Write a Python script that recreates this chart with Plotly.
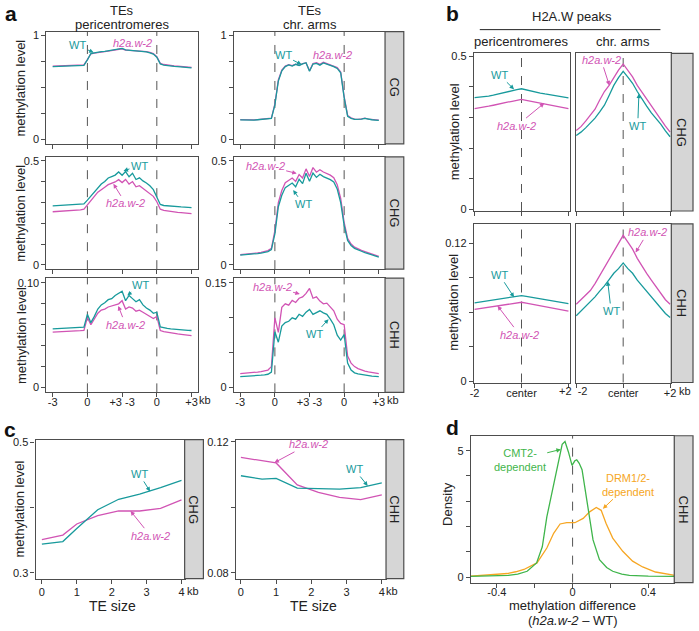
import plotly.graph_objects as go

W, H = 699, 631
FONT = 'Liberation Sans, Arial, sans-serif'
WT_COL = '#189a9c'
MUT_COL = '#d154b4'
CMT_COL = '#3fb54b'
DRM_COL = '#f6a623'
FRAME = '#4d4d4d'
STRIP_FILL = '#d6d6d6'
TXT = '#222222'

# ---------------- data ----------------
# panel a: metaplots over TEs, bins on -3 kb .. TE .. +3 kb (4 segments)
A_X = [round(i * 0.1, 1) for i in range(41)]
A_CG_PERI_WT = [0.700, 0.701, 0.699, 0.702, 0.700, 0.703, 0.704, 0.705, 0.707, 0.712, 0.765, 0.826, 0.833, 0.840,
                0.845, 0.846, 0.851, 0.857, 0.862, 0.869, 0.876, 0.861, 0.858, 0.853, 0.849, 0.851, 0.846, 0.842,
                0.833, 0.821, 0.790, 0.726, 0.715, 0.709, 0.706, 0.702, 0.699, 0.696, 0.693, 0.690, 0.688]
A_CG_PERI_MUT = [0.705, 0.706, 0.704, 0.707, 0.705, 0.708, 0.708, 0.709, 0.711, 0.716, 0.768, 0.824, 0.831, 0.838,
                 0.843, 0.845, 0.849, 0.855, 0.860, 0.866, 0.872, 0.858, 0.856, 0.852, 0.850, 0.853, 0.848, 0.845,
                 0.837, 0.826, 0.795, 0.731, 0.720, 0.714, 0.711, 0.707, 0.704, 0.701, 0.698, 0.695, 0.693]
A_CG_ARMS_WT = [0.185, 0.183, 0.187, 0.184, 0.182, 0.186, 0.189, 0.190, 0.193, 0.199, 0.330, 0.560, 0.660, 0.700,
                0.716, 0.705, 0.722, 0.709, 0.726, 0.737, 0.655, 0.724, 0.731, 0.714, 0.736, 0.721, 0.712, 0.700,
                0.682, 0.640, 0.400, 0.220, 0.200, 0.190, 0.188, 0.193, 0.199, 0.191, 0.186, 0.183, 0.180]
A_CG_ARMS_MUT = [0.187, 0.185, 0.189, 0.186, 0.184, 0.188, 0.190, 0.192, 0.195, 0.202, 0.340, 0.570, 0.665, 0.705,
                 0.718, 0.710, 0.724, 0.713, 0.728, 0.735, 0.660, 0.730, 0.738, 0.722, 0.741, 0.728, 0.718, 0.708,
                 0.690, 0.648, 0.410, 0.228, 0.205, 0.193, 0.190, 0.195, 0.201, 0.193, 0.188, 0.185, 0.182]
A_CHG_PERI_WT = [0.284, 0.285, 0.284, 0.286, 0.287, 0.288, 0.289, 0.290, 0.292, 0.294, 0.312, 0.332, 0.352, 0.374,
                 0.389, 0.401, 0.418, 0.425, 0.432, 0.447, 0.431, 0.449, 0.424, 0.441, 0.411, 0.419, 0.404, 0.394,
                 0.381, 0.362, 0.326, 0.291, 0.286, 0.284, 0.282, 0.281, 0.280, 0.279, 0.278, 0.277, 0.276]
A_CHG_PERI_MUT = [0.256, 0.257, 0.257, 0.258, 0.259, 0.260, 0.261, 0.263, 0.265, 0.268, 0.290, 0.310, 0.330, 0.350,
                  0.364, 0.374, 0.386, 0.391, 0.399, 0.410, 0.396, 0.411, 0.389, 0.401, 0.376, 0.381, 0.369, 0.356,
                  0.345, 0.330, 0.304, 0.268, 0.262, 0.259, 0.257, 0.255, 0.253, 0.252, 0.250, 0.248, 0.247]
A_CHG_ARMS_WT = [0.047, 0.048, 0.049, 0.051, 0.053, 0.055, 0.057, 0.060, 0.064, 0.074, 0.150, 0.280, 0.335, 0.372,
                 0.382, 0.394, 0.376, 0.412, 0.391, 0.441, 0.402, 0.442, 0.421, 0.436, 0.425, 0.419, 0.410, 0.399,
                 0.365, 0.300, 0.190, 0.118, 0.094, 0.080, 0.072, 0.066, 0.060, 0.055, 0.049, 0.043, 0.038]
A_CHG_ARMS_MUT = [0.050, 0.051, 0.052, 0.054, 0.056, 0.058, 0.061, 0.064, 0.069, 0.080, 0.165, 0.300, 0.358, 0.395,
                  0.405, 0.418, 0.402, 0.435, 0.418, 0.462, 0.425, 0.468, 0.446, 0.458, 0.447, 0.441, 0.432, 0.420,
                  0.386, 0.320, 0.205, 0.128, 0.101, 0.086, 0.077, 0.070, 0.064, 0.058, 0.052, 0.046, 0.041]
A_CHH_PERI_WT = [0.0560, 0.0562, 0.0561, 0.0563, 0.0565, 0.0566, 0.0568, 0.0570, 0.0572, 0.0578, 0.0700, 0.0620,
                 0.0680, 0.0750, 0.0790, 0.0810, 0.0840, 0.0850, 0.0880, 0.0900, 0.0920, 0.0830, 0.0880, 0.0850,
                 0.0820, 0.0840, 0.0790, 0.0760, 0.0740, 0.0710, 0.0720, 0.0580, 0.0570, 0.0565, 0.0560, 0.0556,
                 0.0553, 0.0551, 0.0549, 0.0547, 0.0545]
A_CHH_PERI_MUT = [0.0530, 0.0531, 0.0532, 0.0533, 0.0535, 0.0537, 0.0539, 0.0541, 0.0543, 0.0547, 0.0670, 0.0600,
                  0.0660, 0.0710, 0.0740, 0.0750, 0.0770, 0.0780, 0.0790, 0.0800, 0.0830, 0.0750, 0.0770, 0.0760,
                  0.0730, 0.0740, 0.0720, 0.0700, 0.0680, 0.0660, 0.0680, 0.0545, 0.0535, 0.0528, 0.0522, 0.0517,
                  0.0512, 0.0508, 0.0504, 0.0500, 0.0497]
A_CHH_ARMS_WT = [0.0156, 0.0158, 0.0160, 0.0163, 0.0167, 0.0171, 0.0176, 0.0182, 0.0190, 0.0220, 0.0800, 0.0650,
                 0.0880, 0.0930, 0.0950, 0.1000, 0.0980, 0.1050, 0.1020, 0.1080, 0.1120, 0.1050, 0.1080, 0.1100,
                 0.1070, 0.1050, 0.0980, 0.0900, 0.0750, 0.0680, 0.0760, 0.0350, 0.0250, 0.0210, 0.0195, 0.0185,
                 0.0177, 0.0170, 0.0164, 0.0159, 0.0155]
A_CHH_ARMS_MUT = [0.0200, 0.0203, 0.0207, 0.0211, 0.0216, 0.0222, 0.0229, 0.0238, 0.0250, 0.0300, 0.1000, 0.0790,
                  0.1150, 0.1200, 0.1180, 0.1250, 0.1220, 0.1280, 0.1300, 0.1350, 0.1420, 0.1280, 0.1300, 0.1240,
                  0.1200, 0.1210, 0.1150, 0.1100, 0.0980, 0.0920, 0.0900, 0.0450, 0.0350, 0.0300, 0.0270, 0.0250,
                  0.0235, 0.0225, 0.0215, 0.0207, 0.0200]
A_XTICKS = ['-3', '0', '+3 -3', '0', '+3']

# panel b: H2A.W peak metaplots, -2 .. +2 kb
B_X = [-2.0, -1.8, -1.6, -1.4, -1.2, -1.0, -0.8, -0.6, -0.4, -0.2, 0.0,
       0.2, 0.4, 0.6, 0.8, 1.0, 1.2, 1.4, 1.6, 1.8, 2.0]
B_CHG_PERI_WT = [0.365, 0.366, 0.368, 0.370, 0.373, 0.377, 0.380, 0.384, 0.387, 0.391, 0.394,
                 0.390, 0.387, 0.383, 0.380, 0.377, 0.374, 0.371, 0.369, 0.366, 0.364]
B_CHG_PERI_MUT = [0.329, 0.331, 0.334, 0.337, 0.340, 0.344, 0.347, 0.350, 0.353, 0.356, 0.359,
                  0.356, 0.353, 0.349, 0.346, 0.342, 0.339, 0.336, 0.333, 0.331, 0.329]
B_CHG_ARMS_WT = [0.241, 0.252, 0.266, 0.281, 0.298, 0.318, 0.340, 0.372, 0.405, 0.430, 0.451,
                 0.432, 0.412, 0.385, 0.360, 0.337, 0.315, 0.297, 0.278, 0.256, 0.237]
B_CHG_ARMS_MUT = [0.257, 0.270, 0.288, 0.307, 0.327, 0.357, 0.385, 0.405, 0.432, 0.455, 0.475,
                  0.455, 0.433, 0.405, 0.382, 0.360, 0.336, 0.314, 0.294, 0.272, 0.252]
B_CHH_PERI_WT = [0.0683, 0.0689, 0.0695, 0.0701, 0.0707, 0.0713, 0.0720, 0.0727, 0.0733, 0.0740, 0.0746,
                 0.0740, 0.0733, 0.0726, 0.0719, 0.0712, 0.0705, 0.0698, 0.0691, 0.0684, 0.0677]
B_CHH_PERI_MUT = [0.0626, 0.0632, 0.0638, 0.0644, 0.0650, 0.0656, 0.0663, 0.0669, 0.0675, 0.0682, 0.0688,
                  0.0680, 0.0672, 0.0665, 0.0657, 0.0649, 0.0641, 0.0634, 0.0626, 0.0618, 0.0611]
B_CHH_ARMS_WT = [0.0570, 0.0610, 0.0650, 0.0690, 0.0735, 0.0785, 0.0830, 0.0885, 0.0940, 0.0980, 0.1030,
                 0.0980, 0.0940, 0.0880, 0.0830, 0.0780, 0.0730, 0.0680, 0.0635, 0.0590, 0.0555]
B_CHH_ARMS_MUT = [0.067, 0.071, 0.075, 0.079, 0.085, 0.092, 0.098, 0.105, 0.113, 0.120, 0.127,
                  0.121, 0.115, 0.107, 0.100, 0.094, 0.088, 0.082, 0.077, 0.071, 0.067]
B_XTICKS_LEFT = ['-2', 'center', '']
B_XTICKS_RIGHT = ['', 'center', '+2']

# panel c: methylation vs TE size (kb)
C_X = [0.0, 0.6, 1.0, 1.6, 2.2, 2.8, 3.4, 4.0]
C_CHG_WT = [0.344, 0.348, 0.368, 0.397, 0.413, 0.421, 0.431, 0.442]
C_CHG_MUT = [0.351, 0.358, 0.375, 0.388, 0.395, 0.395, 0.399, 0.412]
C_CHH_WT = [0.1096, 0.1086, 0.1088, 0.1058, 0.1057, 0.1055, 0.1060, 0.1074]
C_CHH_MUT = [0.1152, 0.1142, 0.1135, 0.1068, 0.1045, 0.1030, 0.1023, 0.1038]

# panel d: density of CHH methylation difference
D_CMT2_X = [-0.54, -0.44, -0.34, -0.29, -0.24, -0.19, -0.16, -0.136, -0.10, -0.083, -0.068, -0.055, -0.040,
            -0.022, -0.003, 0.012, 0.022, 0.035, 0.050, 0.065, 0.082, 0.108, 0.142, 0.18, 0.212, 0.26,
            0.30, 0.40, 0.54]
D_CMT2_Y = [0.03, 0.04, 0.066, 0.12, 0.23, 0.56, 1.2, 2.38, 3.68, 4.25, 4.85, 5.25, 5.36, 4.95, 4.42, 4.6,
            4.64, 4.5, 4.25, 3.5, 2.64, 1.47, 0.69, 0.38, 0.23, 0.12, 0.07, 0.04, 0.03]
D_DRM_X = [-0.54, -0.44, -0.344, -0.30, -0.257, -0.188, -0.136, -0.10, -0.066, -0.031, 0.012, 0.056, 0.09,
           0.125, 0.151, 0.177, 0.212, 0.265, 0.317, 0.37, 0.438, 0.54]
D_DRM_Y = [0.04, 0.08, 0.14, 0.21, 0.30, 0.56, 1.15, 1.73, 2.10, 2.15, 2.15, 2.32, 2.58, 2.75, 2.64, 2.12,
           1.54, 1.02, 0.63, 0.40, 0.20, 0.07]

# ---------------- geometry (pixels) ----------------
# key: (x px), (y px), x range, y range
GEOM = {
    'a11': ((43, 197), (28, 142), (-0.18, 4.2), (-0.048, 1.038)),
    'a12': ((233, 386), (28, 142), (-0.18, 4.18), (-0.048, 1.038)),
    'a21': ((43, 197), (155, 269), (-0.18, 4.2), (-0.02, 0.52)),
    'a22': ((233, 386), (155, 269), (-0.18, 4.18), (-0.02, 0.52)),
    'a31': ((43, 197), (278, 394), (-0.18, 4.2), (-0.0047, 0.1047)),
    'a32': ((233, 386), (278, 394), (-0.18, 4.18), (-0.007, 0.157)),
    'b11': ((476, 573), (50, 210), (-2.03, 2.05), (-0.006, 0.51)),
    'b12': ((579, 676), (50, 210), (-2.03, 2.05), (-0.006, 0.51)),
    'b21': ((476, 573), (223, 384), (-2.03, 2.05), (-0.001, 0.137)),
    'b22': ((579, 676), (223, 384), (-2.03, 2.05), (-0.001, 0.137)),
    'c1': ((32, 183), (442, 583), (-0.18, 4.09), (0.291, 0.5045)),
    'c2': ((235, 387), (442, 583), (-0.14, 4.12), (0.0782, 0.1206)),
    'd': ((473, 679), (438, 587), (-0.537, 0.537), (-0.22, 5.59)),
}
KEYS = list(GEOM)

XTICKS = {
    'a11': ([0, 1, 2, 3, 4], None), 'a12': ([0, 1, 2, 3, 4], None),
    'a21': ([0, 1, 2, 3, 4], None), 'a22': ([0, 1, 2, 3, 4], None),
    'a31': ([0, 1, 2, 3, 4], A_XTICKS), 'a32': ([0, 1, 2, 3, 4], A_XTICKS),
    'b11': ([-2, 0, 2], None), 'b12': ([-2, 0, 2], None),
    'b21': ([-2, 0, 2], B_XTICKS_LEFT), 'b22': ([-2, 0, 2], B_XTICKS_RIGHT),
    'c1': ([0, 1, 2, 3, 4], ['0', '1', '2', '3', '4']),
    'c2': ([0, 1, 2, 3, 4], ['0', '1', '2', '3', '4']),
    'd': ([-0.4, -0.2, 0, 0.2, 0.4], ['-0.4', '', '0', '', '0.4']),
}
# pull the x tick labels a little closer to the axis where the reference does
XLAB_SHIFT = {'a31': -5, 'a32': -5, 'b21': -4, 'b22': -4, 'c1': -1, 'c2': -1, 'd': -5}
YTICKS = {
    'a11': ([0, 0.25, 0.5, 0.75, 1], ['0', '', '', '', '1']),
    'a12': ([0, 0.25, 0.5, 0.75, 1], ['0', '', '', '', '1']),
    'a21': ([0, 0.1, 0.2, 0.3, 0.4, 0.5], ['0', '', '', '', '', '0.5']),
    'a22': ([0, 0.1, 0.2, 0.3, 0.4, 0.5], ['0', '', '', '', '', '0.5']),
    'a31': ([0, 0.02, 0.04, 0.06, 0.08, 0.10], ['0', '', '', '', '', '0.10']),
    'a32': ([0, 0.05, 0.10, 0.15], ['0', '', '', '0.15']),
    'b11': ([0, 0.1, 0.2, 0.3, 0.4, 0.5], ['0', '', '', '', '', '0.5']),
    'b12': None,
    'b21': ([0, 0.03, 0.06, 0.09, 0.12], ['0', '', '', '', '0.12']),
    'b22': None,
    'c1': ([0.3, 0.4, 0.5], ['0.3', '', '0.5']),
    'c2': ([0.08, 0.10, 0.12], ['0.08', '', '0.12']),
    'd': ([0, 1, 2, 3, 4, 5], ['0', '', '', '', '', '5']),
}


def ax_id(key):
    i = KEYS.index(key) + 1
    return ('x', 'y') if i == 1 else (f'x{i}', f'y{i}')


def to_px(key, xv, yv):
    (x0, x1), (y0, y1), (xr0, xr1), (yr0, yr1) = GEOM[key]
    return (x0 + (xv - xr0) / (xr1 - xr0) * (x1 - x0),
            y1 - (yv - yr0) / (yr1 - yr0) * (y1 - y0))


fig = go.Figure()

SERIES = [
    ('a11', A_X, A_CG_PERI_MUT, MUT_COL), ('a11', A_X, A_CG_PERI_WT, WT_COL),
    ('a12', A_X, A_CG_ARMS_MUT, MUT_COL), ('a12', A_X, A_CG_ARMS_WT, WT_COL),
    ('a21', A_X, A_CHG_PERI_MUT, MUT_COL), ('a21', A_X, A_CHG_PERI_WT, WT_COL),
    ('a22', A_X, A_CHG_ARMS_MUT, MUT_COL), ('a22', A_X, A_CHG_ARMS_WT, WT_COL),
    ('a31', A_X, A_CHH_PERI_MUT, MUT_COL), ('a31', A_X, A_CHH_PERI_WT, WT_COL),
    ('a32', A_X, A_CHH_ARMS_MUT, MUT_COL), ('a32', A_X, A_CHH_ARMS_WT, WT_COL),
    ('b11', B_X, B_CHG_PERI_MUT, MUT_COL), ('b11', B_X, B_CHG_PERI_WT, WT_COL),
    ('b12', B_X, B_CHG_ARMS_MUT, MUT_COL), ('b12', B_X, B_CHG_ARMS_WT, WT_COL),
    ('b21', B_X, B_CHH_PERI_MUT, MUT_COL), ('b21', B_X, B_CHH_PERI_WT, WT_COL),
    ('b22', B_X, B_CHH_ARMS_MUT, MUT_COL), ('b22', B_X, B_CHH_ARMS_WT, WT_COL),
    ('c1', C_X, C_CHG_MUT, MUT_COL), ('c1', C_X, C_CHG_WT, WT_COL),
    ('c2', C_X, C_CHH_MUT, MUT_COL), ('c2', C_X, C_CHH_WT, WT_COL),
    ('d', D_DRM_X, D_DRM_Y, DRM_COL), ('d', D_CMT2_X, D_CMT2_Y, CMT_COL),
]
for key, xs, ys, col in SERIES:
    xa, ya = ax_id(key)
    fig.add_trace(go.Scatter(x=xs, y=ys, mode='lines', xaxis=xa, yaxis=ya,
                             line=dict(color=col, width=1.3), showlegend=False, hoverinfo='skip'))

tickfont = dict(family=FONT, size=11, color=TXT)
layout = {}
for i, key in enumerate(KEYS, start=1):
    (x0, x1), (y0, y1), xr, yr = GEOM[key]
    xa, ya = ax_id(key)
    sfx = '' if i == 1 else str(i)
    xt = XTICKS[key]
    xax = dict(domain=[x0 / W, x1 / W], range=list(xr), anchor=ya, showgrid=False, zeroline=False,
               showline=True, mirror=True, linecolor=FRAME, linewidth=1.2, ticks='outside',
               ticklen=4, tickcolor=FRAME, tickwidth=1, tickfont=tickfont, tickvals=xt[0])
    if xt[1] is None:
        xax['showticklabels'] = False
    else:
        xax['ticktext'] = xt[1]
        xax['ticklabelstandoff'] = XLAB_SHIFT.get(key, 0)
    yax = dict(domain=[1 - y1 / H, 1 - y0 / H], range=list(yr), anchor=xa, showgrid=False, zeroline=False,
               showline=True, mirror=True, linecolor=FRAME, linewidth=1.2, tickfont=tickfont)
    yt = YTICKS[key]
    if yt is None:
        yax.update(ticks='', showticklabels=False)
    else:
        yax.update(ticks='outside', ticklen=4, tickcolor=FRAME, tickwidth=1,
                   tickvals=yt[0], ticktext=yt[1])
    layout['xaxis' + sfx] = xax
    layout['yaxis' + sfx] = yax

shapes = []
# dashed guide lines
VLINES = [('a11', 1), ('a11', 3), ('a12', 1), ('a12', 3), ('a21', 1), ('a21', 3), ('a22', 1), ('a22', 3),
          ('a31', 1), ('a31', 3), ('a32', 1), ('a32', 3), ('b11', 0), ('b12', 0), ('b21', 0), ('b22', 0),
          ('d', 0)]
for key, xv in VLINES:
    xa, ya = ax_id(key)
    shapes.append(dict(type='line', xref=xa, yref=ya + ' domain', x0=xv, x1=xv, y0=0, y1=1,
                       line=dict(color='#555555', width=1, dash='dash'), layer='below'))

# grey strips on the right
STRIPS = [((386, 405), (28, 142), 'CG'), ((386, 405), (155, 269), 'CHG'), ((386, 405), (278, 394), 'CHH'),
          ((676, 698), (50, 210), 'CHG'), ((676, 698), (223, 384), 'CHH'),
          ((183, 202), (442, 583), 'CHG'), ((387, 405), (442, 583), 'CHH'),
          ((679, 698), (438, 587), 'CHH')]
ann = []


def text(x, y, s, size=13, color=TXT, angle=0, anchor='center'):
    ann.append(dict(x=x / W, y=1 - y / H, xref='paper', yref='paper', text=s, showarrow=False,
                    font=dict(family=FONT, size=size, color=color), textangle=angle,
                    xanchor=anchor, yanchor='middle'))


for (sx0, sx1), (sy0, sy1), lab in STRIPS:
    shapes.append(dict(type='rect', xref='paper', yref='paper', x0=sx0 / W, x1=sx1 / W,
                       y0=1 - sy1 / H, y1=1 - sy0 / H, fillcolor=STRIP_FILL,
                       line=dict(color=FRAME, width=1.2)))
    text((sx0 + sx1) / 2, (sy0 + sy1) / 2, lab, size=13, angle=90)

# header rule for panel b
shapes.append(dict(type='line', xref='paper', yref='paper', x0=482 / W, x1=665 / W,
                   y0=1 - 26 / H, y1=1 - 26 / H, line=dict(color=TXT, width=1)))

# panel letters
for lx, ly, l in [(7, 10, 'a'), (454, 10, 'b'), (6, 432, 'c'), (454, 430, 'd')]:
    text(lx, ly, '<b>%s</b>' % l, size=21, color='#111111')

# column headers
text(120, 6.5, 'TEs')
text(120, 20.5, 'pericentromeres')
text(310, 6.5, 'TEs')
text(310, 20.5, 'chr. arms')
text(575, 13, 'H2A.W peaks')
text(524, 38, 'pericentromeres')
text(627, 38, 'chr. arms')

# axis titles
for yy in (85, 212, 336):
    text(17, yy, 'methylation level', angle=-90)
for yy in (130, 303):
    text(456, yy, 'methylation level', angle=-90)
text(16, 512, 'methylation level', angle=-90)
text(450, 507, 'Density', angle=-90)
text(110, 611, 'TE size', size=14)
text(314, 611, 'TE size', size=14)
text(576, 610, 'methylation difference')
text(576, 625, '(<i>h2a.w-2</i> \u2013 WT)')

# "+2 -2" pair between the b columns, and "kb" units
text(576, 393, '+2\u00a0\u00a0-2', size=11)
for kx, ky in [(204, 402), (394, 402), (690, 393), (191, 596), (393, 596)]:
    text(kx, ky, 'kb', size=11)

MUT_LAB = '<i>h2a.w-2</i>'
ARROWS = [
    ('a11', 1.18, 0.835, 75, 42, 'WT', WT_COL), ('a11', 2.51, 0.849, 130, 40, MUT_LAB, MUT_COL),
    ('a12', 1.77, 0.72, 283, 52, 'WT', WT_COL), ('a12', 2.48, 0.735, 333, 52, MUT_LAB, MUT_COL),
    ('a21', 2.04, 0.452, 137, 164, 'WT', WT_COL), ('a21', 1.75, 0.39, 123, 202, MUT_LAB, MUT_COL),
    ('a22', 1.63, 0.44, 265, 164, MUT_LAB, MUT_COL), ('a22', 1.53, 0.36, 303, 203, 'WT', WT_COL),
    ('a31', 2.15, 0.088, 138, 285, 'WT', WT_COL), ('a31', 1.89, 0.078, 123, 325, MUT_LAB, MUT_COL),
    ('a32', 1.72, 0.134, 272, 287, MUT_LAB, MUT_COL), ('a32', 2.55, 0.098, 315, 335, 'WT', WT_COL),
    ('b11', -0.32, 0.392, 502, 72, 'WT', WT_COL), ('b11', 0.97, 0.347, 520, 123, MUT_LAB, MUT_COL),
    ('b12', -0.59, 0.405, 605, 57, MUT_LAB, MUT_COL), ('b12', 0.67, 0.378, 642, 123, 'WT', WT_COL),
    ('b21', -0.32, 0.0732, 502, 275, 'WT', WT_COL), ('b21', -1.02, 0.0657, 522, 335, MUT_LAB, MUT_COL),
    ('b22', 0.53, 0.112, 652, 232, MUT_LAB, MUT_COL), ('b22', -0.66, 0.087, 615, 311, 'WT', WT_COL),
    ('c1', 3.1, 0.425, 137, 477, 'WT', WT_COL), ('c1', 2.54, 0.395, 148, 539, MUT_LAB, MUT_COL),
    ('c2', 0.95, 0.1136, 308, 447, MUT_LAB, MUT_COL), ('c2', 3.6, 0.1065, 355, 472, 'WT', WT_COL),
]
for key, tx, ty, lx, ly, s, col in ARROWS:
    xa, ya = ax_id(key)
    hx, hy = to_px(key, tx, ty)
    ann.append(dict(x=tx, y=ty, xref=xa, yref=ya, ax=lx - hx, ay=ly - hy, text=s, showarrow=True,
                    arrowhead=2, arrowsize=0.9, arrowwidth=1, arrowcolor=col, standoff=0,
                    font=dict(family=FONT, size=11, color=col)))

for key, tx, ty, lx, ly, s, col in [
        ('d', -0.062, 5.05, 523, 462, 'CMT2-<br>dependent', CMT_COL),
        ('d', 0.16, 2.70, 632, 488, 'DRM1/2-<br>dependent', DRM_COL)]:
    xa, ya = ax_id(key)
    hx, hy = to_px(key, tx, ty)
    ann.append(dict(x=tx, y=ty, xref=xa, yref=ya, ax=lx - hx, ay=ly - hy, text=s, showarrow=True,
                    arrowhead=2, arrowsize=0.9, arrowwidth=1, arrowcolor=col, standoff=0,
                    font=dict(family=FONT, size=11, color=col), align='center'))

layout.update(width=W, height=H, margin=dict(l=0, r=0, t=0, b=0), paper_bgcolor='white',
              plot_bgcolor='white', shapes=shapes, annotations=ann, showlegend=False,
              font=dict(family=FONT, size=11, color=TXT))
fig.update_layout(**layout)
# drop the browser's default body margin so the 699x631 figure fills the window
fig.write_html("out.html", config={'displayModeBar': False},
               post_script="document.body.style.margin='0';document.body.style.overflow='hidden';")
